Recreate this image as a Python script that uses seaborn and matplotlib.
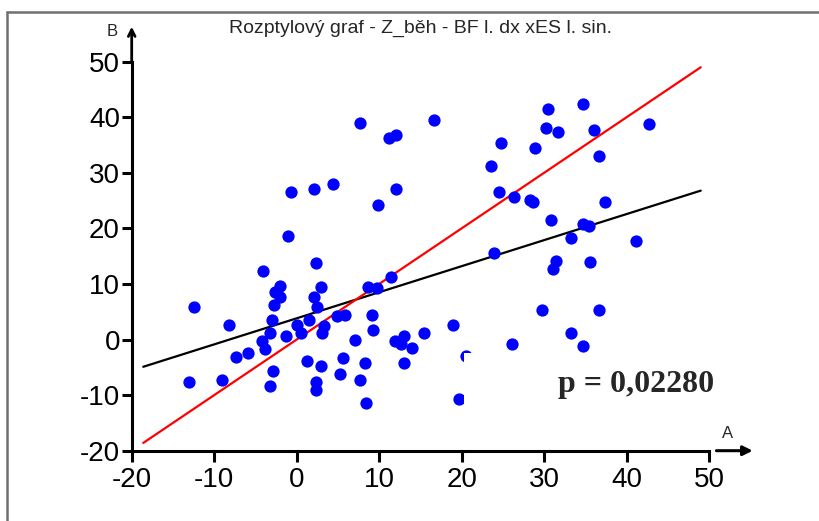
import numpy as np
import matplotlib.pyplot as plt
import matplotlib.patches as mpatches
import matplotlib.lines as mlines
import pandas as pd
import seaborn as sns

# hodnoty
a_vals = [-13.1, -12.5, -9.1, -8.2, -7.3, -5.9, -4.1, -4.2, -3.8, -3.2,
          -3.0, -2.8, -2.6, -2.0, -2.0, -2.9, -3.2, -1.3, -1.0, -0.7,
          0.0, 0.5, 1.2, 1.5, 2.1, 2.1, 2.4, 2.4, 2.4, 2.9,
          3.0, 2.5, 3.1, 3.3, 4.9, 5.9, 4.4, 5.6, 5.3, 7.1,
          7.7, 7.7, 8.3, 8.4, 8.7, 9.8, 9.1, 9.3, 9.9, 11.2,
          12.1, 11.5, 12.1, 11.9, 12.6, 13.0, 13.0, 14.0, 15.5, 16.7,
          18.9, 20.5, 19.7, 23.6, 24.8, 24.5, 23.9, 26.1, 26.4, 28.3,
          28.7, 28.9, 29.8, 30.2, 30.5, 30.8, 31.1, 31.4, 31.7, 33.3,
          33.3, 34.7, 34.7, 34.7, 35.5, 35.6, 36.1, 36.7, 36.7, 37.4,
          41.2, 42.7]
b_vals = [-7.6, 5.9, -7.3, 2.7, -3.1, -2.5, 12.3, -0.3, -1.7, 1.2,
          3.5, 6.2, 8.5, 9.6, 7.6, -5.7, -8.3, 0.7, 18.6, 26.5,
          2.6, 1.1, -3.9, 3.5, 7.6, 27.1, 13.7, -7.6, -9.1, -4.8,
          9.5, 5.8, 1.2, 2.5, 4.2, 4.4, 28.0, -3.4, -6.2, -0.1,
          39.0, -7.3, -4.3, -11.4, 9.5, 9.3, 4.4, 1.7, 24.2, 36.3,
          36.8, 11.3, 27.1, -0.2, -0.8, 0.6, -4.3, -1.5, 1.2, 39.5,
          2.6, -3.0, -10.7, 31.2, 35.4, 26.6, 15.5, -0.8, 25.6, 25.1,
          24.7, 34.4, 5.3, 38.1, 41.4, 21.5, 12.7, 14.1, 37.3, 18.2,
          1.1, 42.4, -1.2, 20.8, 20.5, 14.0, 37.7, 33.0, 5.3, 24.8,
          17.8, 38.7]

# primky: cervena y = x, cerna regresni
line_x = [-18.6, 49.0]
red_y = [-18.6, 49.0]
black_y = [-4.9, 26.8]

x_ticks = [-20, -10, 0, 10, 20, 30, 40, 50]
y_ticks = [-20, -10, 0, 10, 20, 30, 40, 50]
title = "Rozptylový graf - Z_běh - BF l. dx xES l. sin."
p_text = "p = 0,02280"

df = pd.DataFrame({"A": a_vals, "B": b_vals})

sns.set_style("ticks")
plt.rcParams["font.family"] = ["Liberation Sans", "DejaVu Sans"]
plt.rcParams["axes.unicode_minus"] = False

fig = plt.figure(figsize=(8.2, 5.21), dpi=100)
ax = fig.add_axes([131.7 / 820, 70.3 / 521, 577.3 / 820, 389.0 / 521])

sns.lineplot(x=line_x, y=black_y, color="black", linewidth=1.6, ax=ax, zorder=2)
sns.lineplot(x=line_x, y=red_y, color="#ff0000", linewidth=1.6, ax=ax, zorder=2)
sns.scatterplot(data=df, x="A", y="B", color="#0000ff", s=78, edgecolor="#0000ff",
                linewidth=0, ax=ax, zorder=3)

# bily ramecek pod textem p (zakryva nektere body)
ax.add_patch(mpatches.Rectangle((20.3, -15.0), 40, 12.6, facecolor="white",
                                edgecolor="none", zorder=4, clip_on=False))
ax.text(41.2, -8.0, p_text, fontsize=23, fontweight="bold",
        family=["Liberation Serif", "DejaVu Serif"], ha="center", va="center", zorder=5)

ax.set_xlim(-20, 50)
ax.set_ylim(-20, 50)
ax.set_xticks(x_ticks)
ax.set_yticks(y_ticks)
ax.set_xlabel("")
ax.set_ylabel("")
sns.despine(ax=ax)
for side in ["left", "bottom"]:
    ax.spines[side].set_linewidth(2.2)
    ax.spines[side].set_color("black")
ax.tick_params(axis="x", length=8, width=2.2, pad=4, labelsize=20, colors="black")
ax.tick_params(axis="y", length=7, width=2.2, pad=1.5, labelsize=20, colors="black")

# sipky os
ax.annotate("", xy=(0, 1.09), xytext=(0, 1.0), xycoords="axes fraction",
            arrowprops=dict(arrowstyle="->", lw=2.0, color="black",
                            mutation_scale=12, shrinkA=0, shrinkB=0))
ax.annotate("", xy=(55.3, -20), xytext=(50.9, -20), xycoords="data",
            arrowprops=dict(arrowstyle="-|>", lw=2.2, color="black",
                            mutation_scale=14, shrinkA=0, shrinkB=0),
            annotation_clip=False)
fig.text(112 / 820, 1 - 31 / 521, "B", fontsize=12, ha="center", va="center")
fig.text(728 / 820, 1 - 433 / 521, "A", fontsize=12, ha="center", va="center")

fig.text(421 / 820, 1 - 28 / 521, title, fontsize=14, ha="center", va="center")

# ramecek okna
fig.add_artist(mlines.Line2D([7 / 820, 1], [1 - 12 / 521, 1 - 12 / 521],
                             color="#707070", linewidth=1.8))
fig.add_artist(mlines.Line2D([7 / 820, 7 / 820], [0, 1 - 12 / 521],
                             color="#707070", linewidth=1.8))

plt.savefig("out.png", dpi=100)
